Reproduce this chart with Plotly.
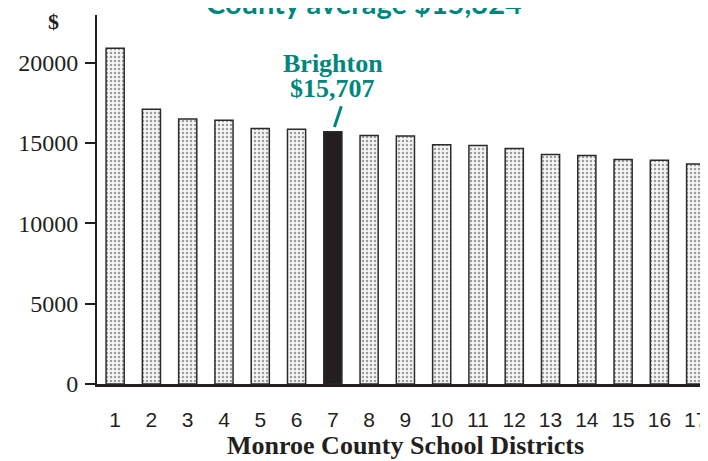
import plotly.graph_objects as go

# data
districts = list(range(1, 18))
spending = [20900, 17100, 16500, 16420, 15900, 15860, 15707, 15470, 15440,
            14900, 14850, 14660, 14290, 14230, 13980, 13930, 13700]
highlight = 7
county_avg = '$15,324'
y_ticks = [0, 5000, 10000, 15000, 20000]

INK = '#231f20'
TEAL = '#00877d'
SERIF = 'Liberation Serif, Times New Roman, serif'
SANS = 'Liberation Sans, Arial, sans-serif'

fill = [INK if d == highlight else '#f5f5f5' for d in districts]
shapes = ['' if d == highlight else '.' for d in districts]

fig = go.Figure(go.Bar(
    x=districts, y=spending,
    marker=dict(color=fill, line=dict(color='#2b2b2b', width=1.5),
                pattern=dict(shape=shapes, fgcolor='#c2c2c2', bgcolor='#f5f5f5',
                             size=4, solidity=0.3)),
    width=0.5, hoverinfo='skip'))

hv = spending[districts.index(highlight)]
fig.add_annotation(x=highlight, y=hv, text='<b>Brighton</b>', showarrow=False,
                   yanchor='bottom', yshift=52, font=dict(family=SERIF, size=26, color=TEAL))
fig.add_annotation(x=highlight, y=hv, text='<b>$15,707</b>', showarrow=False,
                   yanchor='bottom', yshift=27, font=dict(family=SERIF, size=26, color=TEAL))
fig.add_annotation(x=highlight, y=hv, text='', showarrow=True, arrowhead=0,
                   arrowwidth=3, arrowcolor=TEAL, ax=9, ay=-27, standoff=5)

# title, cut off at the top edge like the source
fig.add_annotation(xref='paper', yref='paper', x=0.437, y=1.035, yanchor='middle',
                   text=f'<b>County average {county_avg}</b>', showarrow=False,
                   font=dict(family='Lato, sans-serif', size=29, color=TEAL))
fig.add_annotation(xref='paper', yref='paper', x=-0.0835, y=0.982, yanchor='middle',
                   text='<b>$</b>', showarrow=False,
                   font=dict(family=SERIF, size=22, color=INK))
fig.add_annotation(xref='paper', yref='paper', x=0.505, y=-0.168, yanchor='middle',
                   text='<b>Monroe County School Districts</b>', showarrow=False,
                   font=dict(family=SERIF, size=26, color=INK))

# page body has an 8px margin, so the figure is 700x453 and margins are offset
fig.update_layout(
    width=700, height=453, paper_bgcolor='white', plot_bgcolor='white',
    margin=dict(l=89, r=0, t=7, b=77), showlegend=False,
    xaxis=dict(range=[0.5, 17.34], tickvals=districts, ticks='', showgrid=False,
               zeroline=False, showline=True, linecolor=INK, linewidth=2.5,
               automargin=False, ticklabelstandoff=15,
               tickfont=dict(family=SANS, size=21, color=INK)),
    yaxis=dict(range=[0, 22970], tickvals=y_ticks, ticktext=[str(v) for v in y_ticks],
               ticks='outside', ticklen=10, tickwidth=2, tickcolor=INK,
               showgrid=False, zeroline=False, showline=True, linecolor=INK,
               linewidth=2, ticklabelstandoff=2, automargin=False,
               tickfont=dict(family=SERIF, size=24, color=INK)),
)

fig.write_html('out.html')
